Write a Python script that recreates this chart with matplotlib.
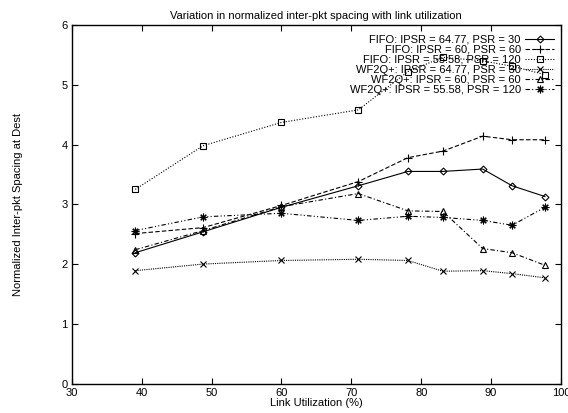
import matplotlib
matplotlib.use('Agg')
import matplotlib.pyplot as plt

plt.rcParams['font.family'] = ['Liberation Sans', 'DejaVu Sans']

# Link utilization (%) for every series
util = [39.1, 48.8, 60.0, 71.0, 78.1, 83.1, 88.8, 93.0, 97.7]

# Normalized inter-pkt spacing at destination
fifo_30 = [2.19, 2.54, 2.95, 3.31, 3.55, 3.55, 3.59, 3.31, 3.13]
fifo_60 = [2.51, 2.61, 2.98, 3.38, 3.78, 3.89, 4.14, 4.08, 4.08]
fifo_120 = [3.25, 3.98, 4.37, 4.58, 5.22, 5.46, 5.40, 5.31, 5.17]
wf2q_30 = [1.89, 2.00, 2.06, 2.08, 2.06, 1.88, 1.89, 1.84, 1.77]
wf2q_60 = [2.24, 2.56, 2.96, 3.18, 2.89, 2.88, 2.26, 2.19, 1.98]
wf2q_120 = [2.56, 2.79, 2.85, 2.73, 2.80, 2.78, 2.73, 2.65, 2.95]

labels = ['FIFO: IPSR = 64.77, PSR = 30',
          'FIFO: IPSR = 60, PSR = 60',
          'FIFO: IPSR = 55.58, PSR = 120',
          'WF2Q+: IPSR = 64.77, PSR = 30',
          'WF2Q+: IPSR = 60, PSR = 60',
          'WF2Q+: IPSR = 55.58, PSR = 120']

fig = plt.figure(figsize=(5.68, 4.13), dpi=100)
ax = fig.add_axes([71.7 / 568, 1 - 383.6 / 413, (561 - 71.7) / 568, (383.6 - 25) / 413])

lw = 0.8
ms = 4.5
ax.plot(util, fifo_30, '-', color='black', lw=lw, marker='D', ms=3.5, mfc='none', mew=0.8, label=labels[0])
ax.plot(util, fifo_60, color='black', lw=lw, ls=(0, (4, 2)), marker='+', ms=ms + 1, mew=0.8, label=labels[1])
ax.plot(util, fifo_120, color='black', lw=lw, ls=(0, (1, 1.5)), marker='s', ms=ms, mfc='none', mew=0.8, label=labels[2])
ax.plot(util, wf2q_30, color='black', lw=lw, ls=(0, (1, 1)), marker='x', ms=ms, mew=0.8, label=labels[3])
ax.plot(util, wf2q_60, color='black', lw=lw, ls=(0, (4, 2, 1, 2)), marker='^', ms=ms, mfc='none', mew=0.8, label=labels[4])
ax.plot(util, wf2q_120, color='black', lw=lw, ls=(0, (4, 2, 1, 2, 1, 2)), marker=(8, 2, 0), ms=ms + 1, mew=0.8, label=labels[5])

ax.set_xlim(30, 100)
ax.set_ylim(0, 6)
ax.set_xticks(range(30, 101, 10))
ax.set_yticks(range(0, 7))
ax.tick_params(direction='in', top=True, right=True, length=4, width=0.8, labelsize=8, pad=3)
for s in ax.spines.values():
    s.set_linewidth(1.0)

ax.set_title('Variation in normalized inter-pkt spacing with link utilization', fontsize=8, pad=4)
ax.set_xlabel('Link Utilization (%)', fontsize=8, labelpad=0)
ax.set_ylabel('Normalized Inter-pkt Spacing at Dest', fontsize=8)
ax.yaxis.set_label_coords(-0.100, 0.5)

ax.legend(loc='upper right', bbox_to_anchor=(0.995, 0.985), frameon=False, markerfirst=False,
          fontsize=8, labelspacing=0.0, handlelength=2.6, handletextpad=0.4,
          borderaxespad=0.0, numpoints=1)

fig.savefig('out.png', dpi=100)
